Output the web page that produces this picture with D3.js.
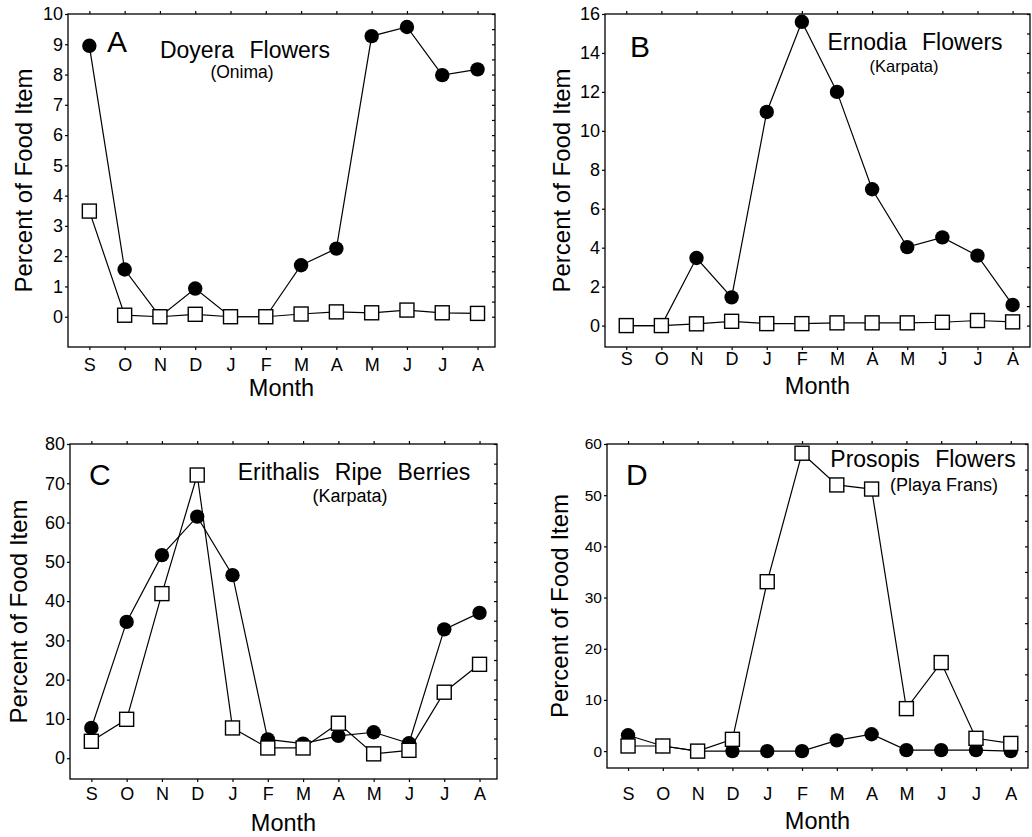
<!DOCTYPE html>
<html>
<head>
<meta charset="utf-8">
<script src="https://cdn.jsdelivr.net/npm/d3@7"></script>
<style>
  body { margin: 0; background: #fff; }
  svg { display: block; font-family: "Liberation Sans", Arial, Helvetica, sans-serif; }
  .tick text { fill: #000; }
</style>
</head>
<body>
<svg id="chart" width="1032" height="837"></svg>
<script>
// month sequence, Sep -> Aug
var months = ["S", "O", "N", "D", "J", "F", "M", "A", "M", "J", "J", "A"];

// A - Doyera flowers (Onima)
var doyeraCircles = [8.95, 1.56, 0, 0.93, 0, 0, 1.7, 2.25, 9.27, 9.57, 7.98, 8.17];
var doyeraSquares = [3.49, 0.05, 0, 0.08, 0, 0, 0.09, 0.16, 0.13, 0.22, 0.13, 0.11];
var doyeraTicks = [0, 1, 2, 3, 4, 5, 6, 7, 8, 9, 10];

// B - Ernodia flowers (Karpata)
var ernodiaCircles = [0, 0, 3.47, 1.45, 10.97, 15.6, 12.0, 7.0, 4.03, 4.53, 3.59, 1.06];
var ernodiaSquares = [0, 0, 0.09, 0.22, 0.1, 0.1, 0.14, 0.14, 0.14, 0.17, 0.26, 0.19];
var ernodiaTicks = [0, 2, 4, 6, 8, 10, 12, 14, 16];

// C - Erithalis ripe berries (Karpata)
var erithalisCircles = [7.7, 34.7, 51.7, 61.5, 46.6, 4.8, 3.7, 5.7, 6.6, 3.8, 32.8, 37.0];
var erithalisSquares = [4.3, 9.9, 41.9, 72.1, 7.7, 2.6, 2.6, 8.9, 1.1, 2.0, 16.8, 23.9];
var erithalisTicks = [0, 10, 20, 30, 40, 50, 60, 70, 80];

// D - Prosopis flowers (Playa Frans)
var prosopisCircles = [3.1, 1.0, 0, 0, 0, 0, 2.1, 3.3, 0.2, 0.2, 0.2, 0];
var prosopisSquares = [1.0, 1.0, 0, 2.3, 33.1, 58.2, 52.0, 51.2, 8.3, 17.3, 2.5, 1.5];
var prosopisTicks = [0, 10, 20, 30, 40, 50, 60];

var panels = [
    { letter: "A", title: "Doyera Flowers", site: "(Onima)", circles: doyeraCircles, squares: doyeraSquares,
      ticks: doyeraTicks, yMin: -1, yMax: 10, minor: 0.5,
      left: 68, right: 495, top: 14, bottom: 347,
      letterX: 107, letterY: 52, titleX: 245, titleY: 58, siteX: 242, siteY: 78, siteFont: 17.5,
      ylabX: 32, monthGap: 8, monthY: 396, tickFont: 18 },
    { letter: "B", title: "Ernodia Flowers", site: "(Karpata)", circles: ernodiaCircles, squares: ernodiaSquares,
      ticks: ernodiaTicks, yMin: -1.1, yMax: 16, minor: 1,
      left: 605, right: 1030, top: 14, bottom: 347,
      letterX: 630, letterY: 57, titleX: 915, titleY: 50, siteX: 904, siteY: 72, siteFont: 16.5,
      ylabX: 570, monthGap: 2, monthY: 394, tickFont: 18 },
    { letter: "C", title: "Erithalis Ripe Berries", site: "(Karpata)", circles: erithalisCircles, squares: erithalisSquares,
      ticks: erithalisTicks, yMin: -5.3, yMax: 80, minor: 5,
      left: 70, right: 497, top: 444, bottom: 779,
      letterX: 89, letterY: 485, titleX: 354, titleY: 480, siteX: 350, siteY: 502, siteFont: 18,
      ylabX: 27, monthGap: 5, monthY: 831, tickFont: 18 },
    { letter: "D", title: "Prosopis Flowers", site: "(Playa Frans)", circles: prosopisCircles, squares: prosopisSquares,
      ticks: prosopisTicks, yMin: -3.3, yMax: 60, minor: 5,
      left: 607, right: 1028, top: 444, bottom: 768,
      letterX: 626, letterY: 485, titleX: 923, titleY: 467, siteX: 944, siteY: 491, siteFont: 18,
      ylabX: 568, monthGap: 16, monthY: 829, tickFont: 15.5 }
];

var svg = d3.select("#chart");
svg.append("rect").attr("width", 1032).attr("height", 837).attr("fill", "#fff");

panels.forEach(function (p) {
    var g = svg.append("g");

    var x = d3.scalePoint()
        .domain(d3.range(months.length))
        .range([p.left, p.right])
        .padding(0.55)
        .align(0.55);
    var y = d3.scaleLinear()
        .domain([p.yMin, p.yMax])
        .range([p.bottom, p.top]);

    // frame
    g.append("rect")
        .attr("x", p.left).attr("y", p.top)
        .attr("width", p.right - p.left).attr("height", p.bottom - p.top)
        .attr("fill", "none").attr("stroke", "#000").attr("stroke-width", 1.3);

    // left axis with labels
    var yAxis = g.append("g")
        .attr("transform", "translate(" + p.left + ",0)")
        .call(d3.axisLeft(y).tickValues(p.ticks).tickSize(3).tickPadding(2));
    yAxis.selectAll("text").attr("font-size", p.tickFont);

    // right axis, inward minor ticks
    var minorTicks = d3.range(0, p.yMax + 0.001, p.minor);
    g.append("g")
        .attr("transform", "translate(" + p.right + ",0)")
        .call(d3.axisLeft(y).tickValues(minorTicks).tickSize(3).tickFormat(""));

    // top ticks
    g.append("g")
        .attr("transform", "translate(0," + p.top + ")")
        .call(d3.axisTop(x).tickSize(3).tickFormat(""));

    // bottom axis with month letters
    var xAxis = g.append("g")
        .attr("transform", "translate(0," + p.bottom + ")")
        .call(d3.axisBottom(x).tickSize(3).tickPadding(p.monthGap)
            .tickFormat(function (i) { return months[i]; }));
    xAxis.selectAll("text").attr("font-size", 18);

    g.selectAll(".domain").remove();
    g.selectAll(".tick line").attr("stroke-width", 1.2);

    // series
    var line = d3.line()
        .x(function (d, i) { return x(i); })
        .y(function (d) { return y(d); });

    g.append("path").datum(p.circles)
        .attr("d", line).attr("fill", "none").attr("stroke", "#000").attr("stroke-width", 1.2);
    g.selectAll(".dot").data(p.circles).enter().append("circle")
        .attr("class", "dot")
        .attr("cx", function (d, i) { return x(i); })
        .attr("cy", function (d) { return y(d); })
        .attr("r", 7.2)
        .attr("fill", "#000");

    g.append("path").datum(p.squares)
        .attr("d", line).attr("fill", "none").attr("stroke", "#000").attr("stroke-width", 1.2);
    var s = 14;
    g.selectAll(".sq").data(p.squares).enter().append("rect")
        .attr("class", "sq")
        .attr("x", function (d, i) { return x(i) - s / 2; })
        .attr("y", function (d) { return y(d) - s / 2; })
        .attr("width", s).attr("height", s)
        .attr("fill", "#fff").attr("stroke", "#000").attr("stroke-width", 1.4);

    // texts
    g.append("text").attr("x", p.letterX).attr("y", p.letterY)
        .attr("font-size", 30).text(p.letter);
    g.append("text").attr("x", p.titleX).attr("y", p.titleY)
        .attr("text-anchor", "middle").attr("font-size", 23)
        .attr("word-spacing", 9).text(p.title);
    g.append("text").attr("x", p.siteX).attr("y", p.siteY)
        .attr("text-anchor", "middle").attr("font-size", p.siteFont).text(p.site);

    g.append("text")
        .attr("transform", "translate(" + p.ylabX + "," + ((p.top + p.bottom) / 2) + ") rotate(-90)")
        .attr("text-anchor", "middle").attr("font-size", 24)
        .text("Percent of Food Item");

    g.append("text").attr("x", (p.left + p.right) / 2).attr("y", p.monthY)
        .attr("text-anchor", "middle").attr("font-size", 23.5).text("Month");
});
</script>
</body>
</html>
